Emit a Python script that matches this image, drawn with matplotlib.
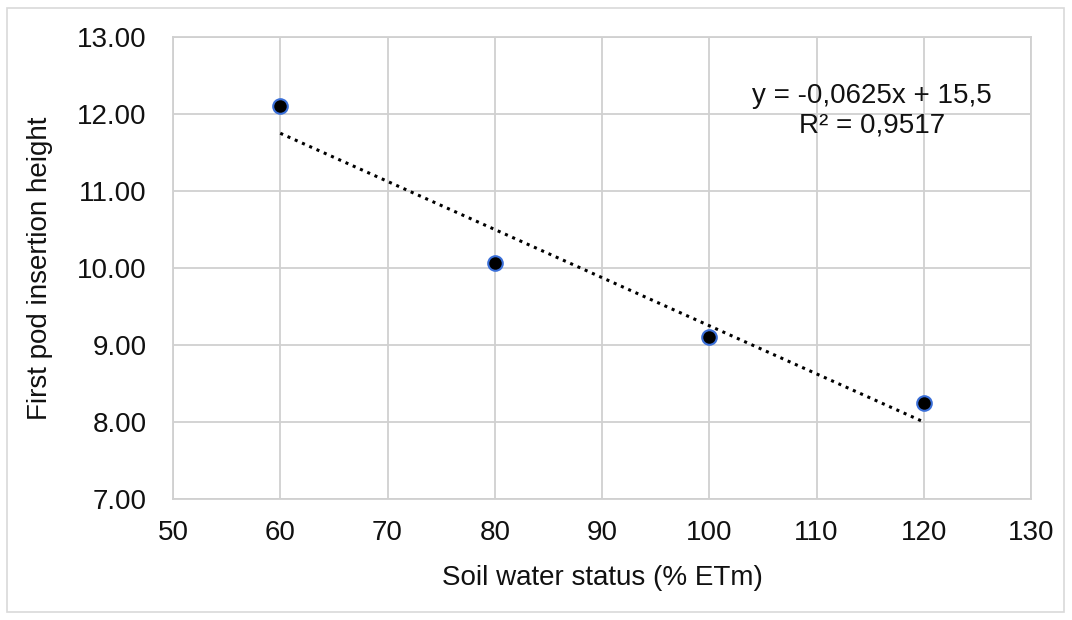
import matplotlib
matplotlib.use("Agg")
import matplotlib.pyplot as plt
from matplotlib.patches import Rectangle
import numpy as np

plt.rcParams['font.family'] = ['Liberation Sans', 'DejaVu Sans']

soil_water = [60, 80, 100, 120]
pod_height = [12.10, 10.07, 9.10, 8.25]
trend_slope = -0.0625
trend_intercept = 15.5
equation_label = "y = -0,0625x + 15,5\nR² = 0,9517"
x_ticks = [50, 60, 70, 80, 90, 100, 110, 120, 130]
y_ticks = [7, 8, 9, 10, 11, 12, 13]

fig = plt.figure(figsize=(10.72, 6.2), dpi=100)
ax = fig.add_axes([0.1614, 0.1952, 0.8004, 0.7451])

# outer border
fig.patches.append(Rectangle((7/1072, 8/620), 1057/1072, 604/620, transform=fig.transFigure,
                             fill=False, edgecolor='#d9d9d9', linewidth=1.2))

grid_col = '#d0d0d0'
ax.set_xlim(50, 130)
ax.set_ylim(7, 13)
ax.set_xticks(x_ticks)
ax.set_yticks(y_ticks)
ax.set_yticklabels([f"{v:.2f}" for v in y_ticks])
ax.grid(True, color=grid_col, linewidth=1.3)
ax.set_axisbelow(True)
for s in ax.spines.values():
    s.set_color(grid_col)
    s.set_linewidth(1.3)
ax.tick_params(length=0, labelsize=20, colors='#111111')
ax.tick_params(axis='y', pad=19)
ax.tick_params(axis='x', pad=15)

xs = np.array([min(soil_water), max(soil_water)])
ax.plot(xs, trend_slope * xs + trend_intercept, color='black', linestyle=(0, (1, 1.6)),
        linewidth=2.2, zorder=3)
ax.plot(soil_water, pod_height, linestyle='none', marker='o', markersize=10.5,
        markerfacecolor='black', markeredgecolor='#3a6fd8', markeredgewidth=1.5, zorder=4)

ax.text(115.2, 12.04, equation_label, ha='center', va='center', fontsize=20,
        color='#111111', linespacing=1.2)

fig.text(602/1072, 1 - 578/620, "Soil water status (% ETm)", fontsize=20,
         ha='center', va='center', color='#111111')
fig.text(40/1072, 1 - 268/620, "First pod insertion height", fontsize=20,
         ha='center', va='center', rotation=90, color='#111111')

fig.savefig("out.png", dpi=100)
